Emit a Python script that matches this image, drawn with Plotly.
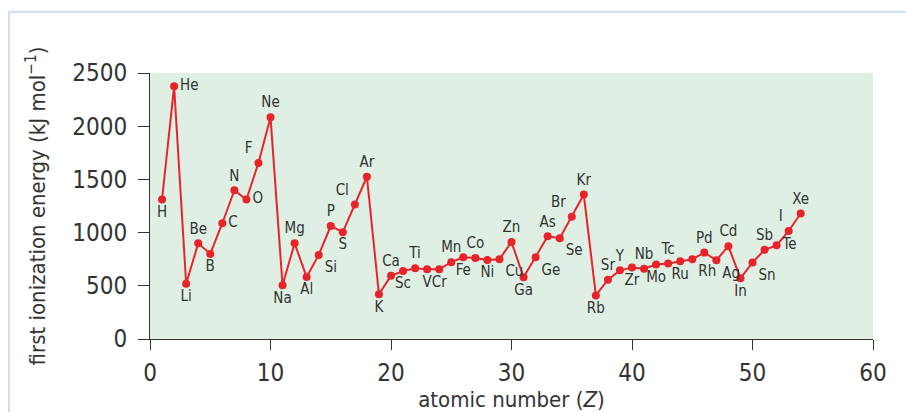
import plotly.graph_objects as go

# atomic numbers 1..54
symbols = ["H", "He", "Li", "Be", "B", "C", "N", "O", "F", "Ne",
           "Na", "Mg", "Al", "Si", "P", "S", "Cl", "Ar",
           "K", "Ca", "Sc", "Ti", "V", "Cr", "Mn", "Fe", "Co", "Ni", "Cu", "Zn",
           "Ga", "Ge", "As", "Se", "Br", "Kr",
           "Rb", "Sr", "Y", "Zr", "Nb", "Mo", "Tc", "Ru", "Rh", "Pd", "Ag", "Cd",
           "In", "Sn", "Sb", "Te", "I", "Xe"]
atomic_number = list(range(1, 55))
ionization_energy = [1311, 2375, 520, 899, 800, 1088, 1398, 1311, 1655, 2085,
                     505, 900, 582, 790, 1062, 1004, 1265, 1525,
                     420, 595, 638, 665, 655, 655, 722, 768, 762, 742, 750, 912,
                     580, 768, 965, 948, 1148, 1358,
                     410, 557, 645, 672, 660, 700, 710, 730, 750, 812, 740, 872,
                     570, 720, 838, 880, 1015, 1180]

x_ticks = [0, 10, 20, 30, 40, 50, 60]
y_ticks = [0, 500, 1000, 1500, 2000, 2500]

label_pos = ["bottom center", "middle right", "bottom center", "top center", "bottom center",
             "middle right", "top center", "middle right", "top left", "top center",
             "bottom center", "top center", "bottom center", "bottom right", "top center",
             "bottom center", "top left", "top center",
             "bottom center", "top center", "bottom center", "top center", "bottom center",
             "bottom center", "top center", "bottom center", "top center", "bottom center",
             "bottom right", "top center",
             "bottom center", "bottom right", "top center", "bottom right", "top left", "top center",
             "bottom center", "top center", "top center", "bottom center", "top center",
             "bottom center", "top center", "bottom center", "bottom right", "top center",
             "bottom right", "top center",
             "bottom center", "bottom right", "top center", "middle right", "top left", "top center"]

RED = "#e8242a"
FONT = "DejaVu Sans Condensed, Liberation Sans, sans-serif"
INK = "#333333"

fig = go.Figure()
fig.add_trace(go.Scatter(
    x=atomic_number, y=ionization_energy, text=symbols,
    mode="lines+markers+text", textposition=label_pos,
    line=dict(color=RED, width=2),
    marker=dict(color=RED, size=8),
    textfont=dict(family=FONT, size=15, color=INK),
    cliponaxis=False, hoverinfo="x+y+text",
))

fig.update_layout(
    width=906, height=412,
    margin=dict(l=150, r=33, t=73, b=73, autoexpand=False),
    paper_bgcolor="white", plot_bgcolor="#dfefe3",
    showlegend=False,
    font=dict(family=FONT, color=INK),
    shapes=[
        dict(type="line", xref="paper", yref="paper", x0=-0.195, x1=1.06, y0=1.23, y1=1.23,
             line=dict(color="#cfdff2", width=2)),
        dict(type="line", xref="paper", yref="paper", x0=-0.195, x1=-0.195, y0=1.23, y1=-0.3,
             line=dict(color="#cfdff2", width=2)),
    ],
)
fig.update_xaxes(
    range=[0, 60], tickvals=x_ticks, showgrid=False, zeroline=False, automargin=False,
    showline=True, linecolor=INK, linewidth=1,
    ticks="outside", ticklen=10, tickcolor=INK, ticklabelstandoff=2,
    tickfont=dict(family=FONT, size=24, color=INK),
    title=dict(text="atomic number (<i>Z</i>)", font=dict(family=FONT, size=22, color=INK), standoff=5),
)
fig.update_yaxes(
    range=[0, 2500], tickvals=y_ticks, showgrid=False, zeroline=False, automargin=False,
    showline=True, linecolor=INK, linewidth=1,
    ticks="outside", ticklen=11, tickcolor=INK, ticklabelstandoff=6,
    tickfont=dict(family=FONT, size=24, color=INK),
    title=dict(text="first ionization energy (kJ mol<sup>−1</sup>)", font=dict(family=FONT, size=22, color=INK), standoff=20),
)

fig.write_html("out.html", config={"displayModeBar": False},
               post_script="document.body.style.margin='0';")
